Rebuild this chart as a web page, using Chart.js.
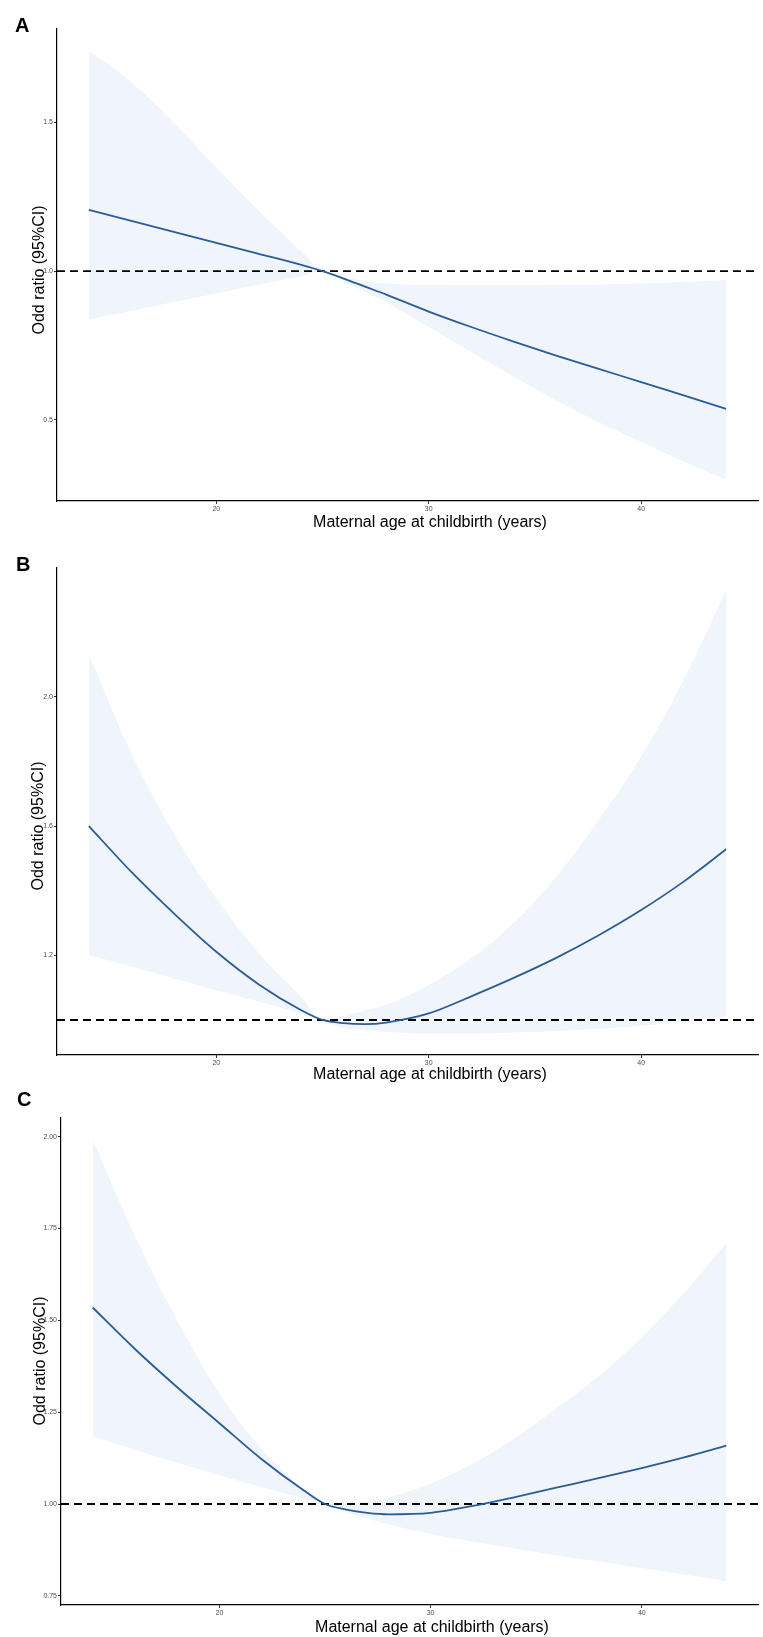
<!DOCTYPE html>
<html>
<head>
<meta charset="utf-8">
<title>Odd ratio by maternal age at childbirth</title>
<script src="https://cdn.jsdelivr.net/npm/chart.js@4.4.1/dist/chart.umd.min.js"></script>
<style>
  html, body { margin: 0; padding: 0; background: #fff; }
  body { position: relative; width: 763px; height: 1637px; overflow: hidden;
         font-family: "Liberation Sans", Arial, sans-serif; }
  .panel { position: absolute; left: 0; width: 763px; }
  .tag { position: absolute; font-size: 20px; line-height: 20px; font-weight: bold; color: #000; }
  .xt { position: absolute; width: 400px; height: 20px; line-height: 20px; text-align: center;
        font-size: 16px; color: #000; white-space: nowrap; }
  .yt { position: absolute; width: 200px; height: 20px; line-height: 20px; text-align: center;
        font-size: 16px; color: #000; white-space: nowrap; transform: rotate(-90deg); }
</style>
</head>
<body>

<div class="panel" style="top:0px; height:533px;"><canvas id="panel-a"></canvas></div>
<div class="panel" style="top:540px; height:547px;"><canvas id="panel-b"></canvas></div>
<div class="panel" style="top:1090px; height:547px;"><canvas id="panel-c"></canvas></div>

<div class="tag" style="left:15px; top:15px;">A</div>
<div class="tag" style="left:16px; top:554px;">B</div>
<div class="tag" style="left:17px; top:1089px;">C</div>

<div class="yt" style="left:-61px; top:260px;">Odd ratio (95%CI)</div>
<div class="yt" style="left:-62px; top:816px;">Odd ratio (95%CI)</div>
<div class="yt" style="left:-60px; top:1351px;">Odd ratio (95%CI)</div>

<div class="xt" style="left:230px; top:512px;">Maternal age at childbirth (years)</div>
<div class="xt" style="left:230px; top:1064px;">Maternal age at childbirth (years)</div>
<div class="xt" style="left:232px; top:1617px;">Maternal age at childbirth (years)</div>

<script>
// 年龄（横轴）
const ages = [14, 16, 18, 20, 22, 24, 25, 26, 27, 28, 30, 32, 34, 36, 38, 40, 42, 44];
const xTicks = [20, 30, 40];

// 图 A
const orA = [1.206, 1.169, 1.132, 1.095, 1.058, 1.021, 1.000, 0.975, 0.948, 0.921, 0.864, 0.812, 0.763, 0.716, 0.671, 0.627, 0.582, 0.537];
const hiA = [1.742, 1.635, 1.500, 1.348, 1.202, 1.067, 1.000, 0.980, 0.966, 0.958, 0.953, 0.952, 0.952, 0.953, 0.955, 0.958, 0.963, 0.970];
const loA = [0.837, 0.866, 0.896, 0.925, 0.955, 0.983, 1.000, 0.966, 0.930, 0.895, 0.812, 0.728, 0.645, 0.565, 0.492, 0.425, 0.360, 0.299];
const yTicksA = [0.5, 1.0, 1.5];
const yLabelsA = ['0.5', '1.0', '1.5'];

// 图 B
const orB = [1.600, 1.458, 1.330, 1.211, 1.110, 1.030, 1.000, 0.990, 0.987, 0.992, 1.020, 1.073, 1.130, 1.192, 1.262, 1.340, 1.428, 1.528];
const hiB = [2.130, 1.825, 1.577, 1.376, 1.206, 1.071, 1.000, 1.013, 1.030, 1.046, 1.108, 1.190, 1.300, 1.443, 1.619, 1.815, 2.052, 2.330];
const loB = [1.200, 1.165, 1.128, 1.092, 1.057, 1.020, 1.000, 0.975, 0.968, 0.963, 0.958, 0.958, 0.961, 0.966, 0.973, 0.981, 0.995, 1.010];
const yTicksB = [1.2, 1.6, 2.0];
const yLabelsB = ['1.2', '1.6', '2.0'];

// 图 C
const orC = [1.535, 1.422, 1.318, 1.220, 1.122, 1.037, 1.000, 0.985, 0.976, 0.972, 0.976, 0.995, 1.019, 1.045, 1.071, 1.098, 1.127, 1.159];
const hiC = [1.991, 1.730, 1.500, 1.300, 1.150, 1.040, 1.000, 1.002, 1.008, 1.018, 1.055, 1.110, 1.180, 1.262, 1.350, 1.455, 1.575, 1.710];
const loC = [1.184, 1.148, 1.112, 1.078, 1.046, 1.015, 1.000, 0.978, 0.960, 0.945, 0.918, 0.897, 0.878, 0.860, 0.843, 0.826, 0.808, 0.790];
const yTicksC = [0.75, 1.00, 1.25, 1.50, 1.75, 2.00];
const yLabelsC = ['0.75', '1.00', '1.25', '1.50', '1.75', '2.00'];

const X_MIN = 12.5;
const X_MAX = 45.5;
const FONT = "'Liberation Sans', Arial, sans-serif";
const LINE_BLUE = '#2B5C96';
const BAND = '#EFF5FB';

function toPoints(values) {
    return ages.map((a, i) => ({ x: a, y: values[i] }));
}

// 画一个面板（轴标题用页面上的文字）
function makePanel(id, p) {
    const ctx = document.getElementById(id);

    new Chart(ctx, {
        type: 'line',
        data: {
            datasets: [
                {
                    // 主曲线
                    data: toPoints(p.or),
                    borderColor: LINE_BLUE,
                    borderWidth: 1.8,
                    pointRadius: 0,
                    fill: false,
                    cubicInterpolationMode: 'monotone'
                },
                {
                    // OR = 1 参考线
                    data: [{ x: X_MIN, y: 1 }, { x: X_MAX, y: 1 }],
                    borderColor: '#000',
                    borderWidth: 1.9,
                    borderDash: [8, 5],
                    pointRadius: 0,
                    fill: false
                },
                {
                    // 95%CI 上限
                    data: toPoints(p.hi),
                    borderColor: 'rgba(0,0,0,0)',
                    borderWidth: 0,
                    pointRadius: 0,
                    backgroundColor: BAND,
                    fill: '+1',
                    cubicInterpolationMode: 'monotone'
                },
                {
                    // 95%CI 下限
                    data: toPoints(p.lo),
                    borderColor: 'rgba(0,0,0,0)',
                    borderWidth: 0,
                    pointRadius: 0,
                    fill: false,
                    cubicInterpolationMode: 'monotone'
                }
            ]
        },
        options: {
            responsive: true,
            maintainAspectRatio: false,
            animation: false,
            layout: { padding: { top: p.padTop, left: 0, right: 5, bottom: 0 } },
            plugins: {
                legend: { display: false },
                tooltip: { enabled: false }
            },
            scales: {
                x: {
                    type: 'linear',
                    min: X_MIN,
                    max: X_MAX,
                    afterBuildTicks: function(scale) {
                        scale.ticks = xTicks.map(v => ({ value: v }));
                    },
                    afterFit: function(scale) {
                        scale.height = 32;
                    },
                    grid: { drawOnChartArea: false, drawTicks: true, tickLength: 3, color: '#333', lineWidth: 1 },
                    border: { display: true, color: '#000', width: 1.2 },
                    ticks: {
                        color: '#4D4D4D',
                        font: { size: 7, family: FONT },
                        padding: 1,
                        maxRotation: 0,
                        autoSkip: false
                    },
                    title: { display: false }
                },
                y: {
                    type: 'linear',
                    min: p.yMin,
                    max: p.yMax,
                    afterBuildTicks: function(scale) {
                        scale.ticks = p.yTicks.map(v => ({ value: v }));
                    },
                    afterFit: function(scale) {
                        scale.width = p.yWidth;
                    },
                    grid: { drawOnChartArea: false, drawTicks: true, tickLength: 3, color: '#333', lineWidth: 1 },
                    border: { display: true, color: '#000', width: 1.2 },
                    ticks: {
                        color: '#4D4D4D',
                        font: { size: 7, family: FONT },
                        padding: 1,
                        autoSkip: false,
                        callback: function(value, index) {
                            return p.yLabels[index];
                        }
                    },
                    title: { display: false }
                }
            }
        }
    });
}

makePanel('panel-a', {
    or: orA, hi: hiA, lo: loA,
    yTicks: yTicksA, yLabels: yLabelsA,
    yMin: 0.227, yMax: 1.814,
    padTop: 29, yWidth: 57
});

makePanel('panel-b', {
    or: orB, hi: hiB, lo: loB,
    yTicks: yTicksB, yLabels: yLabelsB,
    yMin: 0.8915, yMax: 2.3985,
    padTop: 28, yWidth: 57
});

makePanel('panel-c', {
    or: orC, hi: hiC, lo: loC,
    yTicks: yTicksC, yLabels: yLabelsC,
    yMin: 0.725, yMax: 2.051,
    padTop: 28, yWidth: 61
});
</script>
</body>
</html>
